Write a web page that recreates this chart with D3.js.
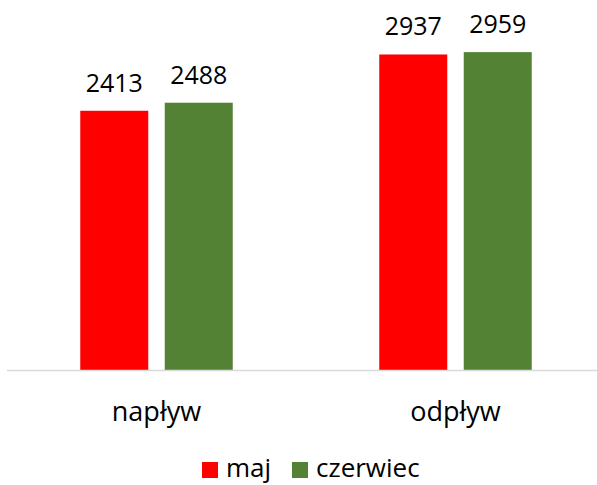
<!DOCTYPE html>
<html>
<head>
<meta charset="utf-8">
<script src="https://cdn.jsdelivr.net/npm/d3@7"></script>
<style>
  body { margin: 0; background: #fff; }
  svg text { font-family: "Open Sans", "Noto Sans", sans-serif; fill: #000; }
</style>
</head>
<body>
<div id="chart"></div>
<script>
// dane
const categories = ["napływ", "odpływ"];
const series = ["maj", "czerwiec"];
const colors = ["#ff0000", "#548235"];
const maj = [2413, 2937];
const czerwiec = [2488, 2959];

const values = [maj, czerwiec];

const width = 597, height = 485;
const baseY = 370;

const svg = d3.select("#chart").append("svg")
    .attr("width", width)
    .attr("height", height);

const x0 = d3.scaleBand()
    .domain(categories)
    .range([7, 605])
    .paddingInner(0.49)
    .paddingOuter(0.245);

const x1 = d3.scaleBand()
    .domain(series)
    .range([0, x0.bandwidth()])
    .paddingInner(0.195)
    .paddingOuter(0);

const y = d3.scaleLinear()
    .domain([0, 3500])
    .range([baseY, -6]);

// słupki
categories.forEach((cat, ci) => {
    const g = svg.append("g").attr("transform", `translate(${x0(cat)},0)`);
    series.forEach((s, si) => {
        const v = values[si][ci];
        g.append("rect")
            .attr("x", x1(s))
            .attr("y", y(v))
            .attr("width", x1.bandwidth())
            .attr("height", y(0) - y(v))
            .attr("fill", colors[si]);
        g.append("text")
            .attr("x", x1(s) + x1.bandwidth() / 2)
            .attr("y", y(v) - 19)
            .attr("text-anchor", "middle")
            .style("font-size", "25px")
            .text(v);
    });
});

// oś X
svg.append("line")
    .attr("x1", 7).attr("x2", width)
    .attr("y1", baseY + 0.5).attr("y2", baseY + 0.5)
    .attr("stroke", "#d9d9d9")
    .attr("stroke-width", 1.5);

svg.append("g").selectAll("text")
    .data(categories)
    .enter().append("text")
    .attr("x", d => x0(d) + x0.bandwidth() / 2)
    .attr("y", 421)
    .attr("text-anchor", "middle")
    .style("font-size", "27px")
    .text(d => d);

// legenda
const legendPos = [202, 292];
const legend = svg.append("g");
series.forEach((s, i) => {
    legend.append("rect")
        .attr("x", legendPos[i])
        .attr("y", 462)
        .attr("width", 16)
        .attr("height", 16)
        .attr("fill", colors[i]);
    legend.append("text")
        .attr("x", legendPos[i] + 24)
        .attr("y", 477)
        .style("font-size", "26px")
        .text(s);
});
</script>
</body>
</html>
